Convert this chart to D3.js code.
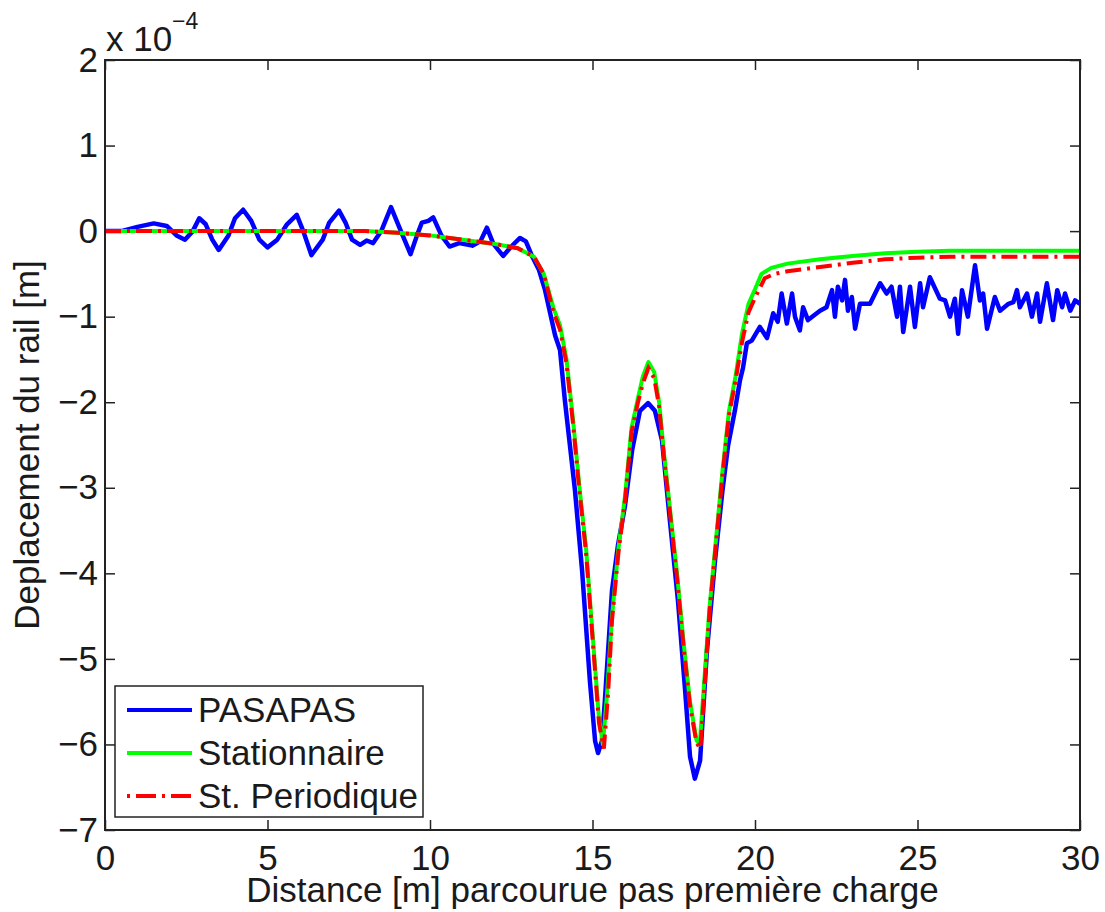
<!DOCTYPE html>
<html>
<head>
<meta charset="utf-8">
<script src="https://cdn.jsdelivr.net/npm/d3@7"></script>
<style>
  body { margin: 0; background: #fff; }
  text { font-family: "Liberation Sans", Arial, sans-serif; fill: #1a1a1a; }
</style>
</head>
<body>
<div id="chart"></div>
<script>
// data (x in m, y in units of 1e-4 m)
var pasapasX = [0, 0.5, 1.0, 1.5, 1.9, 2.2, 2.46, 2.7, 2.9, 3.1, 3.3, 3.5, 3.8, 4.0, 4.25, 4.5, 4.75, 5.0, 5.3, 5.6, 5.9, 6.1, 6.35, 6.7, 6.9, 7.2, 7.4, 7.6, 7.85, 8.05, 8.25, 8.5, 8.8, 9.05, 9.4, 9.6, 9.75, 9.95, 10.1, 10.35, 10.6, 10.9, 11.3, 11.55, 11.75, 11.95, 12.25, 12.5, 12.77, 12.95, 13.15, 13.35, 13.54, 13.85, 14.0, 14.15, 14.46, 14.68, 14.92, 15.08, 15.17, 15.29, 15.38, 15.6, 15.78, 16.0, 16.22, 16.46, 16.71, 16.92, 17.14, 17.38, 17.63, 17.85, 18.0, 18.15, 18.31, 18.52, 18.77, 19.0, 19.17, 19.38, 19.54, 19.63, 19.75, 19.9, 20.15, 20.37, 20.56, 20.7, 20.82, 20.98, 21.14, 21.23, 21.38, 21.48, 21.63, 22.0, 22.2, 22.37, 22.46, 22.55, 22.68, 22.77, 22.86, 22.98, 23.08, 23.23, 23.54, 23.85, 24.05, 24.2, 24.37, 24.46, 24.56, 24.77, 24.92, 25.08, 25.17, 25.38, 25.69, 25.85, 26.0, 26.15, 26.25, 26.37, 26.55, 26.77, 26.92, 27.02, 27.14, 27.38, 27.54, 27.8, 27.95, 28.06, 28.15, 28.37, 28.52, 28.68, 28.77, 28.98, 29.17, 29.3, 29.45, 29.54, 29.7, 29.85, 30];
var pasapasY = [0, 0.0, 0.05, 0.09, 0.06, -0.05, -0.1, 0.0, 0.15, 0.08, -0.1, -0.22, -0.05, 0.15, 0.25, 0.12, -0.1, -0.19, -0.1, 0.08, 0.19, 0.0, -0.28, -0.1, 0.1, 0.24, 0.1, -0.1, -0.16, -0.11, -0.14, 0.0, 0.28, 0.05, -0.27, -0.05, 0.1, 0.12, 0.16, -0.05, -0.18, -0.14, -0.17, -0.12, 0.04, -0.15, -0.29, -0.18, -0.08, -0.12, -0.3, -0.45, -0.69, -1.22, -1.39, -1.98, -3.03, -3.97, -5.26, -5.96, -6.1, -5.96, -5.49, -4.2, -3.68, -3.21, -2.56, -2.1, -2.01, -2.1, -2.45, -3.38, -4.32, -5.37, -6.14, -6.4, -6.19, -4.91, -3.85, -3.03, -2.51, -2.1, -1.74, -1.6, -1.31, -1.28, -1.12, -1.25, -0.96, -1.06, -0.73, -1.08, -0.73, -1.0, -1.16, -0.89, -1.04, -0.93, -0.89, -0.69, -1.0, -0.65, -0.81, -0.57, -0.93, -0.77, -1.14, -0.85, -0.85, -0.61, -0.73, -0.65, -1.0, -0.65, -1.18, -0.65, -1.12, -0.61, -0.89, -0.54, -0.79, -0.81, -1.0, -0.79, -1.2, -0.69, -1.0, -0.4, -0.81, -0.73, -1.14, -0.77, -0.93, -0.85, -0.83, -0.69, -0.89, -0.73, -1.0, -0.73, -1.06, -0.61, -1.04, -0.69, -0.89, -0.73, -0.93, -0.81, -0.85];

var statX = [0, 8, 9, 10, 11, 12, 12.7, 13.2, 13.5, 13.8, 14.0, 14.2, 14.4, 14.6, 14.8, 15.0, 15.2, 15.32, 15.45, 15.6, 15.8, 16.0, 16.2, 16.4, 16.55, 16.72, 16.9, 17.05, 17.2, 17.4, 17.6, 17.8, 18.0, 18.2, 18.3, 18.45, 18.6, 18.8, 19.0, 19.2, 19.4, 19.6, 19.8, 20.0, 20.2, 20.5, 21, 22, 23, 24, 25, 26, 28, 30];
var statY = [0, 0, -0.02, -0.05, -0.1, -0.15, -0.2, -0.3, -0.5, -0.9, -1.1, -1.5, -2.2, -3.0, -3.7, -4.7, -5.7, -6.0, -5.4, -4.5, -3.7, -3.1, -2.3, -1.95, -1.7, -1.53, -1.65, -2.0, -2.6, -3.3, -4.0, -4.8, -5.5, -5.95, -6.0, -5.2, -4.4, -3.6, -2.8, -2.1, -1.7, -1.2, -0.85, -0.68, -0.5, -0.43, -0.38, -0.33, -0.29, -0.26, -0.24, -0.23, -0.23, -0.23];

var perX = [0, 8, 9, 10, 11, 12, 12.7, 13.2, 13.5, 13.8, 14.0, 14.2, 14.4, 14.6, 14.8, 15.0, 15.2, 15.35, 15.48, 15.6, 15.8, 16.0, 16.2, 16.4, 16.55, 16.72, 16.9, 17.05, 17.2, 17.4, 17.6, 17.8, 18.0, 18.2, 18.32, 18.45, 18.6, 18.8, 19.0, 19.2, 19.4, 19.6, 19.8, 20.0, 20.3, 20.6, 21, 22, 23, 24, 25, 26, 28, 30];
var perY = [0, 0, -0.02, -0.05, -0.1, -0.15, -0.2, -0.3, -0.5, -0.95, -1.15, -1.55, -2.25, -3.05, -3.75, -4.75, -5.75, -6.05, -5.4, -4.55, -3.75, -3.15, -2.35, -2.0, -1.78, -1.6, -1.72, -2.05, -2.65, -3.35, -4.05, -4.85, -5.55, -5.98, -6.05, -5.3, -4.45, -3.65, -2.85, -2.15, -1.75, -1.3, -0.95, -0.78, -0.55, -0.5, -0.47, -0.42, -0.37, -0.33, -0.31, -0.3, -0.3, -0.3];

var xTicks = [0, 5, 10, 15, 20, 25, 30];
var yTicks = [-7, -6, -5, -4, -3, -2, -1, 0, 1, 2];
var seriesNames = ["PASAPAS", "Stationnaire", "St. Periodique"];
var seriesColors = ["#0000ff", "#00ff00", "#ff0000"];

var width = 1105, height = 912;
var margin = { top: 60, right: 25, bottom: 82, left: 105 };
var innerWidth = width - margin.left - margin.right;
var innerHeight = height - margin.top - margin.bottom;

var svg = d3.select("#chart")
    .append("svg")
    .attr("width", width)
    .attr("height", height)
    .style("background", "#fff");

var g = svg.append("g")
    .attr("transform", "translate(" + margin.left + "," + margin.top + ")");

var xScale = d3.scaleLinear().domain([0, 30]).range([0, innerWidth]);
var yScale = d3.scaleLinear().domain([-7, 2]).range([innerHeight, 0]);

var fontSize = 35;

// axes, ticks pointing inward like matlab
var xAxis = d3.axisBottom(xScale).tickValues(xTicks).tickSizeInner(-10).tickSizeOuter(0).tickPadding(15);
var yAxis = d3.axisLeft(yScale).tickValues(yTicks).tickSizeInner(-10).tickSizeOuter(0).tickPadding(7)
    .tickFormat(d3.format("d"));

g.append("g").attr("transform", "translate(0," + innerHeight + ")").call(xAxis);
g.append("g").call(yAxis);

// top and right ticks, no labels
var topTicks = g.append("g").call(d3.axisTop(xScale).tickValues(xTicks).tickSizeInner(-10).tickSizeOuter(0));
var rightTicks = g.append("g").attr("transform", "translate(" + innerWidth + ",0)")
    .call(d3.axisRight(yScale).tickValues(yTicks).tickSizeInner(-10).tickSizeOuter(0));
topTicks.selectAll("text").remove();
rightTicks.selectAll("text").remove();

g.selectAll(".domain").remove();
g.selectAll(".tick line").attr("stroke", "#222").attr("stroke-width", 1.5);
g.selectAll(".tick text")
    .style("font-family", "'Liberation Sans', Arial, sans-serif")
    .style("font-size", fontSize + "px")
    .attr("fill", "#1a1a1a");

// lines
var line = d3.line()
    .x(function (d) { return xScale(d[0]); })
    .y(function (d) { return yScale(d[1]); });

var plot = g.append("g");

plot.append("path")
    .datum(d3.zip(pasapasX, pasapasY))
    .attr("fill", "none")
    .attr("stroke", seriesColors[0])
    .attr("stroke-width", 4.5)
    .attr("stroke-linejoin", "round")
    .attr("d", line);

plot.append("path")
    .datum(d3.zip(statX, statY))
    .attr("fill", "none")
    .attr("stroke", seriesColors[1])
    .attr("stroke-width", 4)
    .attr("stroke-linejoin", "round")
    .attr("d", line);

plot.append("path")
    .datum(d3.zip(perX, perY))
    .attr("fill", "none")
    .attr("stroke", seriesColors[2])
    .attr("stroke-width", 4)
    .attr("stroke-dasharray", "16,6,3,6")
    .attr("d", line);

// frame
g.append("rect")
    .attr("x", 0).attr("y", 0)
    .attr("width", innerWidth).attr("height", innerHeight)
    .attr("fill", "none")
    .attr("stroke", "#222")
    .attr("stroke-width", 2);

// exponent
svg.append("text")
    .attr("x", 106).attr("y", 51)
    .style("font-size", fontSize + "px")
    .text("x 10");
svg.append("text")
    .attr("x", 172).attr("y", 29)
    .style("font-size", "23px")
    .text("\u22124");

// axis labels
svg.append("text")
    .attr("x", margin.left + innerWidth / 2).attr("y", 902)
    .attr("text-anchor", "middle")
    .style("font-size", fontSize + "px")
    .text("Distance [m] parcourue pas première charge");

svg.append("text")
    .attr("transform", "translate(39," + (margin.top + innerHeight / 2) + ") rotate(-90)")
    .attr("text-anchor", "middle")
    .style("font-size", fontSize + "px")
    .text("Deplacement du rail [m]");

// legend
var legend = svg.append("g");
legend.append("rect")
    .attr("x", 115).attr("y", 686)
    .attr("width", 308).attr("height", 131)
    .attr("fill", "#fff")
    .attr("stroke", "#222")
    .attr("stroke-width", 1.5);

var rowY = [710, 753, 796];
seriesNames.forEach(function (name, i) {
    var l = legend.append("line")
        .attr("x1", 127).attr("x2", 192)
        .attr("y1", rowY[i]).attr("y2", rowY[i])
        .attr("stroke", seriesColors[i])
        .attr("stroke-width", 4);
    if (i == 2) l.attr("stroke-dasharray", "3,6,20,6");
    legend.append("text")
        .attr("x", 198).attr("y", rowY[i])
        .attr("dy", "0.35em")
        .style("font-size", fontSize + "px")
        .text(name);
});
</script>
</body>
</html>
